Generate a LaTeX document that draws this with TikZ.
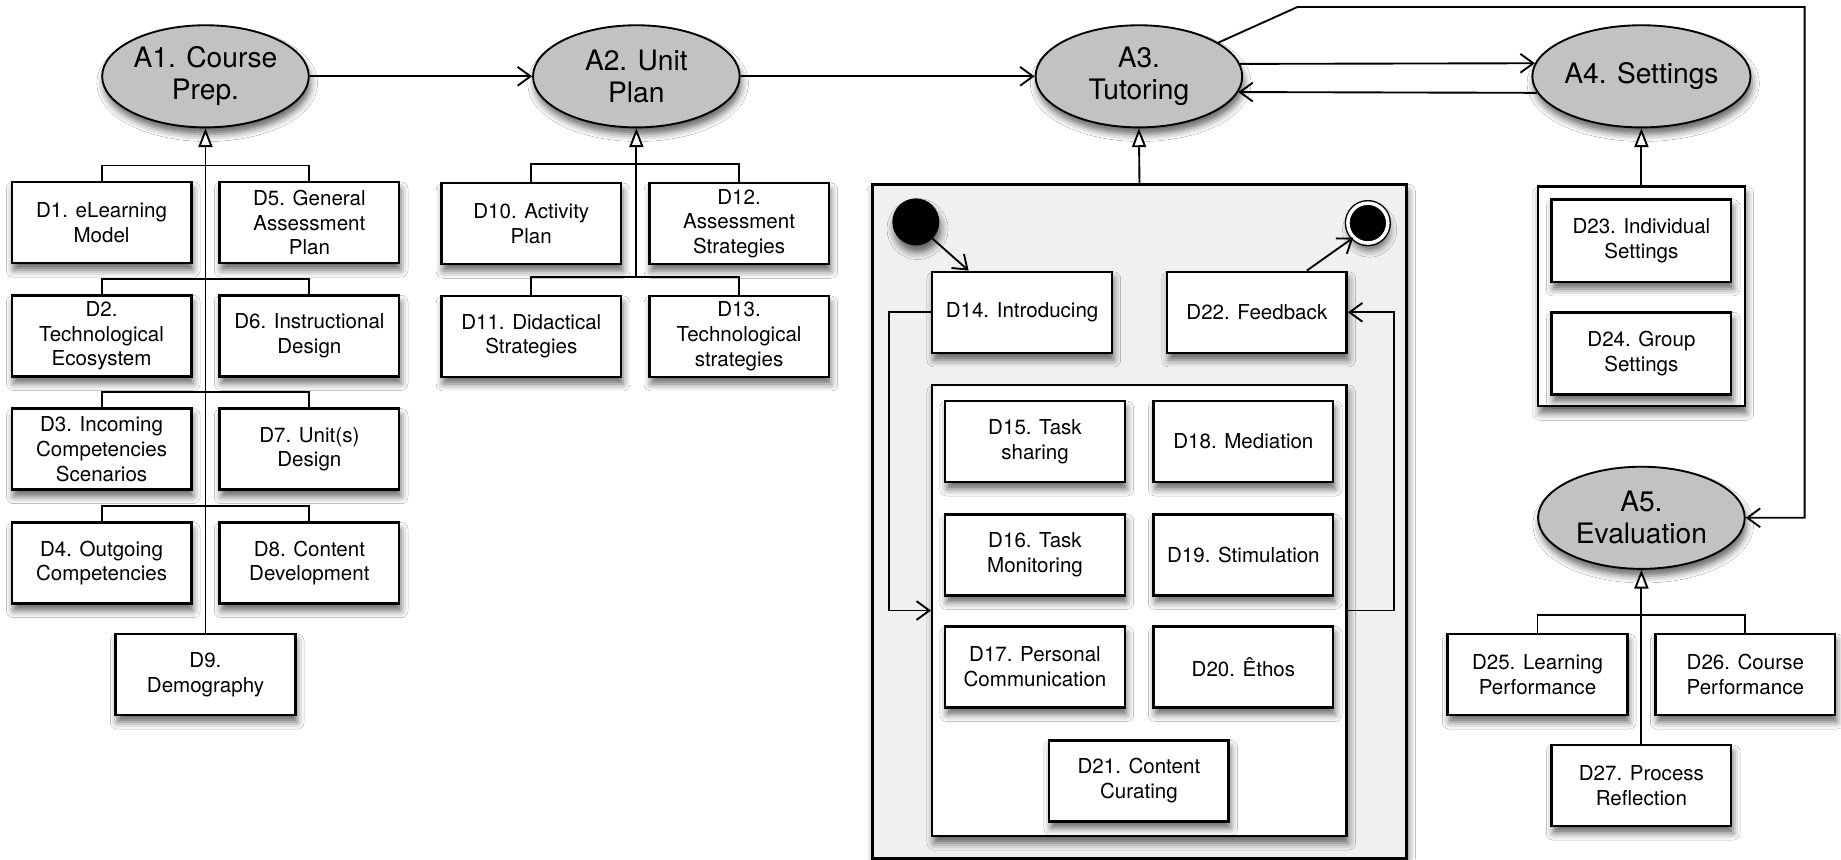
\documentclass[tikz,border=0pt]{standalone}
\usepackage{fontspec}
\setmainfont{TeX Gyre Heros}
\usetikzlibrary{shapes.geometric,arrows.meta,shadows.blur}

\begin{document}
\begin{tikzpicture}[x=1pt,y=-1pt,
    shd/.style={blur shadow={shadow xshift=1.5pt,shadow yshift=-6pt,shadow blur radius=6pt,shadow opacity=60}},
    act/.style={ellipse,draw,line width=1.6pt,fill=black!24,minimum width=176pt,minimum height=87pt,
      inner sep=0pt,align=center,font=\fontsize{24}{27.5}\selectfont,shd},
    dbox/.style={rectangle,draw,line width=2.1pt,fill=white,minimum width=153pt,minimum height=69pt,
      inner sep=2pt,align=center,font=\fontsize{17.5}{21}\selectfont,shd},
    frame/.style={rectangle,draw,line width=2.1pt,shd},
    line/.style={line width=1.6pt},
    flow/.style={line,-{Straight Barb[length=11pt,width=16pt]}},
    gen/.style={line,-{Triangle[length=16pt,width=12pt,fill=white]}}]
  \path[fill=white,use as bounding box] (0,0) rectangle (1568,732);

  \node[act] (a1) at (175,65) {A1. Course\\Prep.};
  \node[act] (a2) at (542,65) {A2. Unit\\Plan};
  \node[act] (a3) at (970,65) {A3.\\Tutoring};
  \node[act] (a4) at (1398,65) {A4. Settings};
  \node[act] (a5) at (1398,441) {A5.\\Evaluation};

  \draw[flow] (a1.east) -- (a2.west);
  \draw[flow] (a2.east) -- (a3.west);
  \draw[flow] (a3.7) -- (a4.173);
  \draw[flow] (a4.189) -- (a3.-9);
  \coordinate (k1) at (1105,6);
  \coordinate (k2) at (1537,6);
  \draw[flow] (a3.23) -- (k1) -- (k2) |- (a5.east);

  % course preparation
  \node[dbox] (d1) at (86.5,189.5) {D1. eLearning\\Model};
  \node[dbox] (d5) at (263.5,189.5) {D5. General\\Assessment\\Plan};
  \node[dbox] (d2) at (86.5,286) {D2.\\Technological\\Ecosystem};
  \node[dbox] (d6) at (263.5,286) {D6. Instructional\\Design};
  \node[dbox] (d3) at (86.5,382.5) {D3. Incoming\\Competencies\\Scenarios};
  \node[dbox] (d7) at (263.5,382.5) {D7. Unit(s)\\Design};
  \node[dbox] (d4) at (86.5,479.5) {D4. Outgoing\\Competencies};
  \node[dbox] (d8) at (263.5,479.5) {D8. Content\\Development};
  \node[dbox] (d9) at (175,574.5) {D9.\\Demography};
  \draw[line] (d1.north) -- ++(0,-13) -| (d5.north);
  \draw[line] (d2.north) -- ++(0,-13) -| (d6.north);
  \draw[line] (d3.north) -- ++(0,-13) -| (d7.north);
  \draw[line] (d4.north) -- ++(0,-13) -| (d8.north);
  \draw[gen] (d9.north) -- (a1.south);

  % unit plan
  \node[dbox] (d10) at (452.5,190.5) {D10. Activity\\Plan};
  \node[dbox] (d12) at (629.5,190.5) {D12.\\Assessment\\Strategies};
  \node[dbox] (d11) at (452.5,286.5) {D11. Didactical\\Strategies};
  \node[dbox] (d13) at (629.5,286.5) {D13.\\Technological\\strategies};
  \draw[line] (d10.north) -- ++(0,-15) -| (d12.north);
  \draw[line] (d11.north) -- ++(0,-15) -| (d13.north);
  \draw[gen] (a2.south |- d11.north) ++(0,-15) -- (a2.south);

  % tutoring
  \node[frame,fill=black!6,minimum width=455pt,minimum height=574pt] (tut) at (970.5,444) {};
  \draw[gen] (tut.north) -- (a3.south);
  \node[circle,fill=black,minimum size=40pt,inner sep=0pt,shd] (init) at (780,189) {};
  \node[circle,fill=black,draw,double=white,double distance=3pt,line width=1.2pt,
    minimum size=34pt,inner sep=0pt,shd] (fin) at (1165,190) {};
  \node[dbox] (d14) at (870.5,266) {D14. Introducing};
  \node[dbox] (d22) at (1070.5,266) {D22. Feedback};
  \node[frame,fill=white,minimum width=353pt,minimum height=384pt] (inner) at (970.5,520) {};
  \node[dbox] (d15) at (881.5,376) {D15. Task\\sharing};
  \node[dbox] (d18) at (1059,376) {D18. Mediation};
  \node[dbox] (d16) at (881.5,472.5) {D16. Task\\Monitoring};
  \node[dbox] (d19) at (1059,472.5) {D19. Stimulation};
  \node[dbox] (d17) at (881.5,568) {D17. Personal\\Communication};
  \node[dbox] (d20) at (1059,568) {D20. Êthos};
  \node[dbox] (d21) at (970,665) {D21. Content\\Curating};
  \draw[flow] (init.-45) -- ([xshift=32pt]d14.north west);
  \draw[flow] ([xshift=-35pt]d22.north east) -- (fin.-135);
  \draw[flow] (d14.west) -- ++(-36,0) |- (inner.west);
  \draw[flow] (inner.east) -- ++(39,0) |- (d22.east);

  % settings
  \node[frame,fill=white,minimum width=176pt,minimum height=187pt] (set) at (1398,252.5) {};
  \draw[gen] (set.north) -- (a4.south);
  \node[dbox,minimum height=70pt] (d23) at (1398,205) {D23. Individual\\Settings};
  \node[dbox,minimum height=70pt] (d24) at (1398,301) {D24. Group\\Settings};

  % evaluation
  \node[dbox] (d25) at (1309.5,574.5) {D25. Learning\\Performance};
  \node[dbox] (d26) at (1486.5,574.5) {D26. Course\\Performance};
  \node[dbox] (d27) at (1398,669) {D27. Process\\Reflection};
  \draw[line] (d25.north) -- ++(0,-15) -| (d26.north);
  \draw[gen] (d27.north) -- (a5.south);
\end{tikzpicture}
\end{document}
